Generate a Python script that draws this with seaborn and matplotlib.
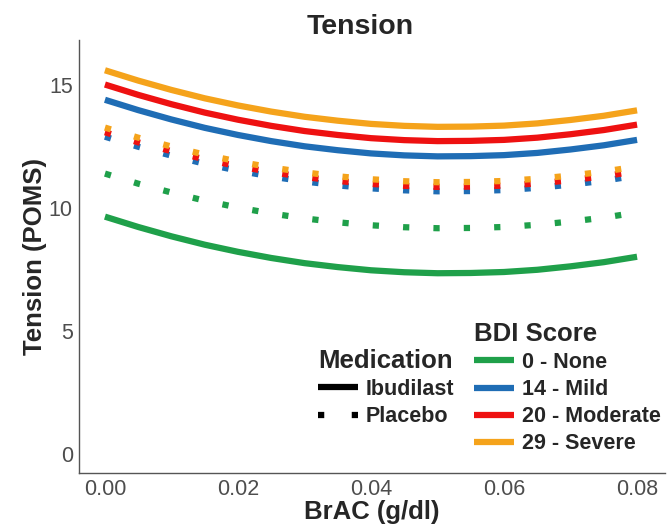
"""
Tension (POMS) by BrAC, split by medication and BDI score.
Recreated with seaborn; saves out.png.
"""

import matplotlib
matplotlib.use("Agg")
import matplotlib.pyplot as plt
from matplotlib.lines import Line2D
import seaborn as sns
import pandas as pd

# ---- data ----
brac = [0.000, 0.005, 0.010, 0.015, 0.020, 0.025, 0.030, 0.035, 0.040,
        0.045, 0.050, 0.055, 0.060, 0.065, 0.070, 0.075, 0.080]

ibud_none = [9.65, 9.23, 8.85, 8.51, 8.22, 7.97, 7.76, 7.60, 7.47,
             7.39, 7.35, 7.36, 7.40, 7.49, 7.63, 7.80, 8.02]
ibud_mild = [14.40, 13.98, 13.60, 13.26, 12.97, 12.72, 12.51, 12.35, 12.22,
             12.14, 12.10, 12.11, 12.15, 12.24, 12.38, 12.55, 12.77]
ibud_moderate = [15.02, 14.60, 14.22, 13.88, 13.59, 13.34, 13.13, 12.97, 12.84,
                 12.76, 12.72, 12.73, 12.77, 12.86, 13.00, 13.17, 13.39]
ibud_severe = [15.60, 15.18, 14.80, 14.46, 14.17, 13.92, 13.71, 13.55, 13.42,
               13.34, 13.30, 13.31, 13.35, 13.44, 13.58, 13.75, 13.97]

plac_none = [11.40, 10.99, 10.63, 10.30, 10.02, 9.78, 9.58, 9.42, 9.30,
             9.22, 9.18, 9.19, 9.23, 9.32, 9.45, 9.61, 9.82]
plac_mild = [12.90, 12.49, 12.13, 11.80, 11.52, 11.28, 11.08, 10.92, 10.80,
             10.72, 10.68, 10.69, 10.73, 10.82, 10.95, 11.11, 11.32]
plac_moderate = [13.08, 12.67, 12.31, 11.98, 11.70, 11.46, 11.26, 11.10, 10.98,
                 10.90, 10.86, 10.87, 10.91, 11.00, 11.13, 11.29, 11.50]
plac_severe = [13.27, 12.86, 12.50, 12.17, 11.89, 11.65, 11.45, 11.29, 11.17,
               11.09, 11.05, 11.06, 11.10, 11.19, 11.32, 11.48, 11.69]

bdi_levels = ["0 - None", "14 - Mild", "20 - Moderate", "29 - Severe"]
medications = ["Ibudilast", "Placebo"]
bdi_colors = ["#1fa04a", "#1f6db5", "#ee1111", "#f5a31b"]

series = {
    ("Ibudilast", "0 - None"): ibud_none,
    ("Ibudilast", "14 - Mild"): ibud_mild,
    ("Ibudilast", "20 - Moderate"): ibud_moderate,
    ("Ibudilast", "29 - Severe"): ibud_severe,
    ("Placebo", "0 - None"): plac_none,
    ("Placebo", "14 - Mild"): plac_mild,
    ("Placebo", "20 - Moderate"): plac_moderate,
    ("Placebo", "29 - Severe"): plac_severe,
}

rows = []
for (med, bdi), vals in series.items():
    for x, y in zip(brac, vals):
        rows.append({"BrAC": x, "Tension": y, "Medication": med, "BDI": bdi})
df = pd.DataFrame(rows)

# ---- style ----
sns.set_style("white")
plt.rcParams["font.family"] = ["Liberation Sans", "DejaVu Sans"]

LW = 4.5
DOTS = (1, 3.86)
palette = dict(zip(bdi_levels, bdi_colors))

fig = plt.figure(figsize=(6.68, 5.25), dpi=100)
ax = fig.add_axes([79 / 668, 52 / 525, 586 / 668, 433 / 525])

sns.lineplot(
    data=df, x="BrAC", y="Tension", hue="BDI", style="Medication",
    hue_order=bdi_levels, style_order=medications, palette=palette,
    dashes={"Ibudilast": "", "Placebo": DOTS}, linewidth=LW,
    solid_capstyle="butt", legend=False, ax=ax,
)

ax.set_xlim(-0.0039, 0.0842)
ax.set_ylim(-0.77, 16.83)
ax.set_xticks([0.00, 0.02, 0.04, 0.06, 0.08])
ax.set_xticklabels(["0.00", "0.02", "0.04", "0.06", "0.08"])
ax.set_yticks([0, 5, 10, 15])

for side in ("top", "right"):
    ax.spines[side].set_visible(False)
for side in ("left", "bottom"):
    ax.spines[side].set_color("#555555")
    ax.spines[side].set_linewidth(1.0)

ax.tick_params(axis="both", colors="#555555", labelcolor="#4d4d4d",
               labelsize=15.5, length=3, width=1, pad=1.5, direction="out")

ax.set_xlabel("BrAC (g/dl)", fontsize=18.5, fontweight="bold", labelpad=0)
ax.set_ylabel("Tension (POMS)", fontsize=18.5, fontweight="bold", labelpad=1)
fig.text(360 / 668, 1 - 27 / 525, "Tension", ha="center", va="center",
         fontsize=20.5, fontweight="bold")

# ---- legends ----
legend_kw = dict(
    frameon=False, loc="upper left", bbox_transform=fig.transFigure,
    borderpad=0, borderaxespad=0, handlelength=1.85, handletextpad=0.37,
    labelspacing=0.28, prop={"size": 15.5, "weight": "bold"},
    title_fontproperties={"size": 18.5, "weight": "bold"}, alignment="left",
)

bdi_handles = [Line2D([], [], color=c, lw=LW, solid_capstyle="butt") for c in bdi_colors]
leg_bdi = ax.legend(bdi_handles, bdi_levels, title="BDI Score",
                    bbox_to_anchor=(474 / 668, 1 - 322 / 525), **legend_kw)
ax.add_artist(leg_bdi)

med_handles = [
    Line2D([], [], color="black", lw=LW, solid_capstyle="butt"),
    Line2D([], [], color="black", lw=LW, dashes=(1, 4.4)),
]
ax.legend(med_handles, medications, title="Medication",
          bbox_to_anchor=(318 / 668, 1 - 349 / 525), **legend_kw)

fig.savefig("out.png", dpi=100)
